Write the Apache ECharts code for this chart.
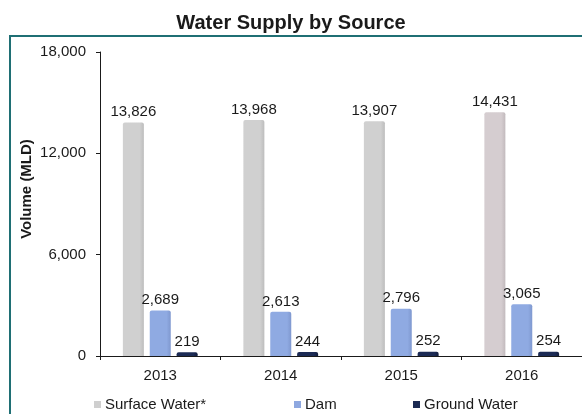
<!DOCTYPE html>
<html>
<head>
<meta charset="utf-8">
<script src="https://cdn.jsdelivr.net/npm/echarts@6/dist/echarts.min.js"></script>
<style>
  html, body { margin: 0; padding: 0; background: #fff; }
  #frame { position: absolute; left: 9px; top: 35px; width: 600px; height: 420px; border: 2px solid #1f6f74; box-sizing: border-box; }
  #chart { position: absolute; left: 0; top: 0; width: 582px; height: 414px; }
</style>
</head>
<body>
<div id="frame"></div>
<div id="chart"></div>
<script>
// Annual water supply (megalitres per day) by source
const years = ['2013', '2014', '2015', '2016'];
const surfaceWater = [13826, 13968, 13907, 14431];
const dam = [2689, 2613, 2796, 3065];
const groundWater = [219, 244, 252, 254];
const yTicks = { min: 0, max: 18000, interval: 6000 };

const font = "'Liberation Sans', Arial, sans-serif";
const ink = '#1a1a1a';

function grad(light, dark) {
  return new echarts.graphic.LinearGradient(0, 0, 1, 0, [
    { offset: 0, color: light },
    { offset: 0.8, color: light },
    { offset: 1, color: dark }
  ]);
}

const labelStyle = {
  show: true,
  position: 'top',
  distance: 3,
  color: ink,
  fontSize: 15,
  fontFamily: font,
  formatter: p => p.value.toLocaleString('en-US')
};

const chart = echarts.init(document.getElementById('chart'), null, { renderer: 'canvas' });

function legendItem(name, left, color) {
  return {
    data: [{ name: name, itemStyle: { color: color } }],
    left: left,
    top: 392,
    itemWidth: 7,
    itemHeight: 7,
    icon: 'rect',
    itemGap: 0,
    textStyle: { fontSize: 15, fontFamily: font, color: ink, padding: [0, 0, 0, -1] },
    selectedMode: false
  };
}

// the latest year's surface bar carries a faintly warmer grey
const surfaceData = surfaceWater.map((v, i) =>
  i === years.length - 1
    ? { value: v, itemStyle: { color: grad('#d5cdd0', '#c2babd') } }
    : v
);

chart.setOption({
  animation: false,
  title: {
    text: 'Water Supply by Source',
    left: 'center',
    top: 8,
    textStyle: { fontSize: 20, fontWeight: 'bold', fontFamily: font, color: ink }
  },
  legend: [
    legendItem('Surface Water*', 89, '#cfcfcf'),
    legendItem('Dam', 289, '#8ea8e0'),
    legendItem('Ground Water', 408, '#1b2a52')
  ],
  grid: { left: 100, top: 52, width: 486, height: 304, containLabel: false },
  xAxis: {
    type: 'category',
    data: years,
    axisLine: { lineStyle: { color: ink, width: 1 } },
    axisTick: { show: true, length: 4, lineStyle: { color: ink } },
    axisLabel: { fontSize: 15, fontFamily: font, color: ink, margin: 12 }
  },
  yAxis: {
    type: 'value',
    min: yTicks.min,
    max: yTicks.max,
    interval: yTicks.interval,
    name: 'Volume (MLD)',
    nameLocation: 'middle',
    nameGap: 66,
    nameMoveOverlap: false,
    nameTextStyle: { fontSize: 15, fontWeight: 'bold', fontFamily: font, color: ink, padding: [0, 0, 0, 30] },
    axisLine: { show: true, lineStyle: { color: ink, width: 1 } },
    axisTick: { show: true, length: 4, lineStyle: { color: ink } },
    splitLine: { show: false },
    axisLabel: {
      fontSize: 15, fontFamily: font, color: ink, margin: 14,
      formatter: v => v.toLocaleString('en-US')
    }
  },
  series: [
    {
      name: 'Surface Water*',
      type: 'bar',
      data: surfaceData,
      barWidth: 21,
      barGap: '28%',
      itemStyle: { color: grad('#d0d0d0', '#bdbdbd'), borderRadius: [2, 2, 0, 0] },
      label: labelStyle
    },
    {
      name: 'Dam',
      type: 'bar',
      data: dam,
      barWidth: 21,
      barGap: '28%',
      itemStyle: { color: grad('#8faae2', '#7f98cf'), borderRadius: [2, 2, 0, 0] },
      label: labelStyle
    },
    {
      name: 'Ground Water',
      type: 'bar',
      data: groundWater,
      barWidth: 21,
      barGap: '28%',
      itemStyle: { color: grad('#1c2b55', '#121d3d'), borderRadius: [2, 2, 0, 0] },
      label: labelStyle
    }
  ]
});
</script>
</body>
</html>
